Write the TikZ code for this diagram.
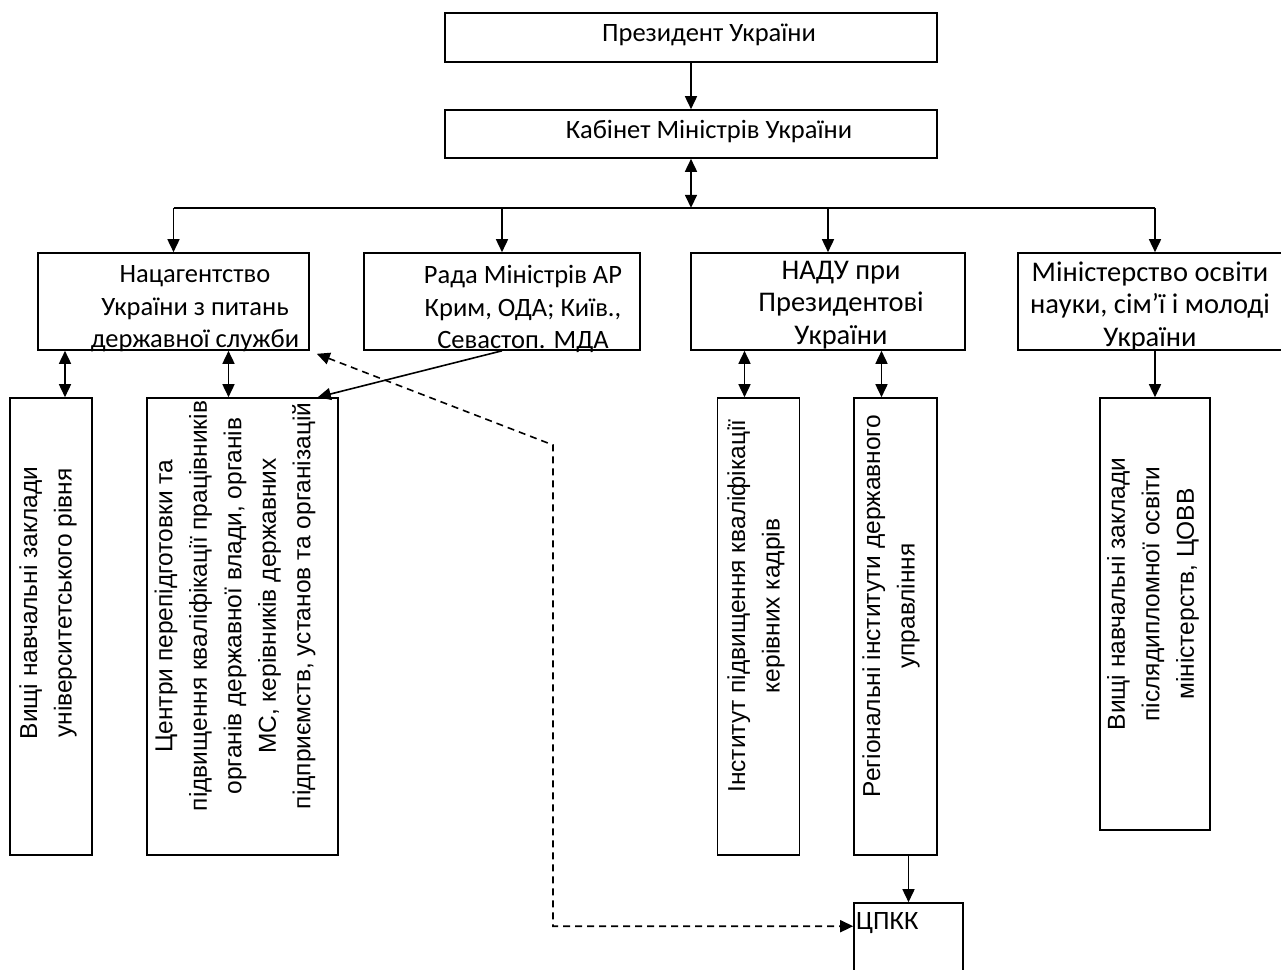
\documentclass[tikz,border=0pt]{standalone}
\usepackage{fontspec}
\setmainfont{Carlito}
\newfontfamily\vfont{Liberation Sans}
\usetikzlibrary{arrows.meta,calc}
\begin{document}
\begin{tikzpicture}[x=1pt,y=-1pt,
  box/.style={draw,line width=1.6pt,inner sep=0pt},
  tip/.tip={Triangle[length=13pt,width=12pt]},
  arr/.style={line width=1.6pt,-tip},
  dbl/.style={line width=1.6pt,tip-tip},
  dsh/.style={line width=1.6pt,dash pattern=on 7pt off 5pt,tip-tip},
  htxt/.style={font=\fontsize{26.5}{32.5}\selectfont,align=center,inner sep=0pt},
  htxtb/.style={font=\fontsize{28.5}{32.5}\selectfont,align=center,inner sep=0pt},
  vtxt/.style={font=\vfont\fontsize{24.5}{34.5}\selectfont,align=center,inner sep=0pt,rotate=90}]
\useasboundingbox (0,0) rectangle (1281,969);
\clip (0,0) rectangle (1281,969);
% boxes
\node[box,minimum width=492,minimum height=49] (pres) at (691,37.5) {};
\node[box,minimum width=492,minimum height=48] (kab) at (691,134) {};
\node[box,minimum width=271,minimum height=97] (nac) at (173.5,301.5) {};
\node[box,minimum width=276,minimum height=97] (rada) at (502,301.5) {};
\node[box,minimum width=274,minimum height=97] (nadu) at (828,301.5) {};
\node[box,minimum width=274,minimum height=97] (min) at (1155,301.5) {};
\node[box,minimum width=82,minimum height=457] (v1) at (51,626.5) {};
\node[box,minimum width=191,minimum height=457] (centry) at (242.5,626.5) {};
\node[box,minimum width=82,minimum height=457] (inst) at (758.5,626.5) {};
\node[box,minimum width=83,minimum height=457] (reg) at (895.5,626.5) {};
\node[box,minimum width=110,minimum height=432] (v2) at (1155,614) {};
\node[box,minimum width=109,minimum height=100] (cpkk) at (908.5,953) {};
% texts
\node[htxt] (prest) at (709,35) {Президент України};
\node[htxt] (kabt) at (709,132) {Кабінет Міністрів України};
\node[htxt] (nact) at (195,309) {Нацагентство\\України з питань\\державної служби};
\node[htxt] (radat) at (523,309) {Рада Міністрів АР\\Крим, ОДА; Київ.,\\Севастоп. МДА};
\node[htxtb] (nadut) at (841,305) {НАДУ при\\Президентові\\України};
\node[htxtb] (mint) at (1150,306) {Міністерство освіти\\науки, сім’ї і молоді\\України};
\node[htxt,anchor=base west] (cpkkt) at (856,929) {ЦПКК};
\node[vtxt] (v1t) at (48,603) {Вищі навчальні заклади\\університетського рівня};
\node[vtxt] (centryt) at (235,606) {Центри перепідготовки та\\підвищення кваліфікації працівників\\органів державної влади, органів\\МС, керівників державних\\підприємств, установ та організацій};
\node[vtxt] (instt) at (756,606) {Інститут підвищення кваліфікації\\керівних кадрів};
\node[vtxt] (regt) at (891,606) {Регіональні інститути державного\\управління};
\node[vtxt] (v2t) at (1153,594) {Вищі навчальні заклади\\післядипломної освіти\\міністерств, ЦОВВ};
% connectors
\coordinate (hub) at ($(kab.south)+(0,49)$);
\draw[arr] (pres.south) -- (kab.north);
\draw[dbl] (kab.south) -- (hub);
\draw[line width=1.6pt] (hub -| nac.north) -- (hub -| min.north);
\draw[arr] (hub -| nac.north) -- (nac.north);
\draw[arr] (hub -| rada.north) -- (rada.north);
\draw[arr] (hub -| nadu.north) -- (nadu.north);
\draw[arr] (hub -| min.north) -- (min.north);
\draw[dbl] ([xshift=14pt]v1.north |- nac.south) -- ([xshift=14pt]v1.north);
\draw[dbl] ([xshift=-14pt]centry.north |- nac.south) -- ([xshift=-14pt]centry.north);
\draw[arr] (rada.south) -- ([xshift=-21pt]centry.north east);
\draw[dbl] ([xshift=-14pt]inst.north |- nadu.south) -- ([xshift=-14pt]inst.north);
\draw[dbl] ([xshift=-14pt]reg.north |- nadu.south) -- ([xshift=-14pt]reg.north);
\draw[arr] (min.south) -- (v2.north);
\draw[arr] (reg.south -| cpkk.north) -- (cpkk.north);
\coordinate (b1) at (553,445);
\coordinate (cpkkin) at ([yshift=-24pt]cpkk.north west);
\draw[dsh] ([xshift=7pt,yshift=-3pt]nac.south east) -- (b1) -- (b1 |- cpkkin) -- (cpkkin);
\end{tikzpicture}
\end{document}
